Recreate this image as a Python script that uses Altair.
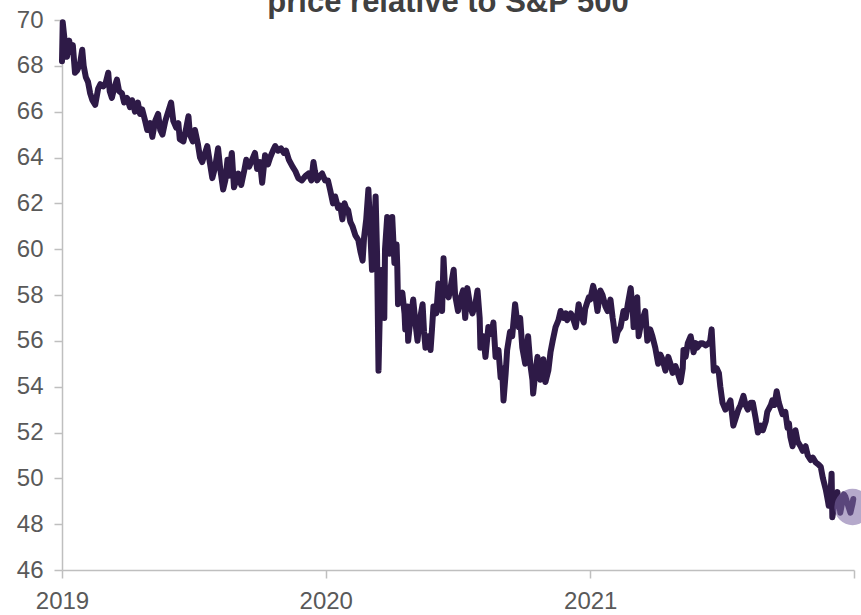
import altair as alt
import pandas as pd

TITLE = ["price relative to S&P 500"]

# days since 2019-01-01
DAY_OFFSETS = [
    0, 1, 4, 7, 10, 12, 15, 18, 21, 25, 28, 30, 33, 36, 39, 42, 46, 50, 53, 57,
    60, 64, 66, 69, 72, 76, 79, 83, 86, 90, 94, 97, 101, 105, 108, 111, 115, 118, 122, 125,
    129, 133, 136, 139, 143, 147, 151, 154, 158, 161, 163, 168, 172, 175, 177, 181, 184, 188, 191, 194,
    198, 201, 204, 208, 212, 216, 219, 223, 226, 229, 231, 235, 238, 241, 244, 248, 252, 255, 259, 263,
    267, 270, 274, 277, 281, 285, 288, 292, 295, 299, 303, 307, 310, 314, 319, 323, 327, 332, 337, 341,
    345, 348, 350, 353, 357, 360, 364, 368, 371, 375, 378, 382, 385, 388, 391, 393, 396, 399, 402, 406,
    410, 413, 416, 418, 421, 424, 427, 429, 432, 434, 436, 438, 440, 443, 446, 447, 450, 453, 456, 457,
    460, 463, 464, 465, 468, 471, 474, 475, 478, 479, 482, 486, 489, 492, 494, 499, 501, 503, 507, 510,
    512, 514, 518, 521, 524, 526, 528, 530, 535, 537, 542, 544, 548, 551, 555, 558, 561, 565, 568, 572,
    575, 578, 579, 583, 586, 590, 594, 597, 600, 604, 607, 609, 611, 614, 616, 620, 623, 627, 630, 632,
    634, 637, 641, 645, 648, 651, 652, 655, 658, 662, 666, 669, 673, 676, 679, 683, 687, 690, 694, 697,
    699, 704, 706, 711, 715, 717, 722, 724, 729, 731, 735, 738, 741, 745, 748, 752, 755, 759, 762, 763,
    766, 769, 773, 777, 780, 783, 787, 790, 791, 794, 796, 798, 801, 803, 807, 810, 814, 817, 821, 825,
    828, 831, 835, 839, 842, 845, 849, 853, 856, 859, 860, 863, 866, 870, 873, 874, 877, 879, 884, 886,
    891, 895, 897, 899, 902, 906, 909, 911, 914, 918, 922, 925, 929, 932, 936, 939, 943, 946, 949, 953,
    956, 960, 963, 967, 970, 974, 976, 981, 983, 986, 989, 992, 994, 997, 1001, 1004, 1006, 1008, 1011, 1015,
    1018, 1022, 1025, 1029, 1032, 1036, 1039, 1043, 1047, 1050, 1053, 1057, 1060, 1061, 1064, 1065, 1066, 1069, 1073, 1076,
    1077, 1080, 1082, 1084, 1087, 1090, 1091, 1094, 1095,
]

PRICE_RATIO = [
    68.2, 69.9, 69.0, 68.4, 69.1, 68.6, 68.9, 67.7, 67.8, 68.1, 68.7, 68.0, 67.5, 67.3, 66.8, 66.5, 66.3, 67.0, 67.2, 67.1,
    67.2, 67.7, 66.9, 66.6, 67.0, 67.4, 66.9, 66.8, 66.4, 66.6, 66.2, 66.5, 66.0, 66.4, 65.9, 66.1, 65.6, 65.2, 65.5, 64.9,
    65.6, 65.9, 65.2, 65.0, 65.6, 66.0, 66.4, 65.6, 65.3, 65.5, 64.8, 64.7, 65.3, 65.8, 65.0, 64.7, 65.2, 64.6, 64.0, 63.8,
    64.2, 64.5, 63.9, 63.1, 63.6, 64.4, 63.5, 62.6, 63.0, 63.9, 63.2, 64.2, 62.7, 63.0, 63.3, 62.8, 63.4, 63.9, 63.6, 63.9,
    64.2, 63.5, 63.8, 62.9, 64.1, 63.7, 64.0, 64.3, 64.5, 64.3, 64.4, 64.2, 64.3, 63.9, 63.6, 63.4, 63.1, 63.0, 63.2, 63.3,
    63.0, 63.8, 63.4, 63.0, 63.2, 63.3, 63.0, 63.0, 62.6, 62.0, 62.3, 61.8, 61.9, 61.3, 62.0, 61.8, 61.7, 61.2, 61.0, 60.6,
    60.4, 59.9, 59.5, 60.5, 61.3, 62.6, 60.5, 59.1, 60.8, 62.3, 59.8, 54.7, 57.5, 59.1, 57.0, 60.0, 61.4, 59.8, 60.5, 61.4,
    59.4, 60.2, 59.2, 57.6, 57.9, 58.1, 57.2, 56.5, 57.5, 56.0, 56.9, 57.8, 56.8, 56.0, 56.7, 57.6, 56.4, 55.7, 56.2, 55.6,
    56.5, 57.5, 57.2, 58.5, 57.8, 57.3, 59.6, 58.3, 57.9, 58.2, 59.1, 58.0, 57.3, 57.8, 58.2, 57.0, 58.3, 57.5, 57.2, 57.6,
    58.2, 57.0, 55.7, 56.2, 55.3, 56.6, 56.3, 56.8, 55.3, 55.6, 54.4, 54.8, 53.4, 54.6, 55.6, 56.4, 56.2, 57.6, 56.8, 56.6,
    57.0, 55.7, 55.0, 56.2, 55.0, 54.3, 53.7, 54.6, 55.3, 54.3, 55.2, 54.2, 54.7, 55.5, 56.0, 56.6, 56.9, 57.3, 57.0, 57.2,
    56.9, 57.2, 57.1, 56.6, 57.6, 57.2, 56.8, 57.4, 57.9, 57.8, 58.4, 58.0, 57.3, 58.2, 58.0, 57.5, 57.3, 57.8, 57.0, 56.8,
    56.0, 56.4, 56.6, 57.3, 57.0, 57.6, 58.3, 57.2, 56.6, 57.5, 57.9, 56.2, 56.7, 56.9, 57.3, 56.0, 56.5, 56.2, 55.7, 55.0,
    55.4, 55.2, 54.7, 55.3, 55.0, 54.6, 54.9, 54.5, 54.2, 54.8, 55.6, 55.3, 55.9, 56.2, 55.7, 55.5, 55.9, 55.7, 55.9, 55.9,
    55.8, 55.9, 56.0, 56.5, 54.7, 54.8, 54.6, 54.0, 53.3, 53.0, 53.2, 53.4, 52.3, 52.6, 53.0, 53.2, 53.6, 53.2, 53.0, 53.3,
    53.3, 52.6, 52.0, 52.3, 52.1, 52.5, 52.9, 53.2, 53.4, 53.2, 53.8, 53.3, 53.1, 52.8, 52.9, 52.2, 52.4, 51.8, 51.4, 52.1,
    51.6, 51.4, 51.2, 51.4, 51.0, 50.8, 50.9, 50.7, 50.6, 50.5, 50.0, 49.5, 49.0, 48.8, 49.6, 50.2, 48.3, 48.9, 49.4, 48.8,
    48.5, 49.0, 49.3, 49.2, 48.9, 48.6, 48.5, 48.9, 49.1,
]

HIGHLIGHT_DAY = [1094]
HIGHLIGHT_VALUE = [48.75]

Y_TICKS = [46, 48, 50, 52, 54, 56, 58, 60, 62, 64, 66, 68, 70]
X_YEARS = [2019, 2020, 2021, 2022]

base_date = pd.Timestamp("2019-01-01")
df = pd.DataFrame({
    "date": (base_date + pd.to_timedelta(DAY_OFFSETS, unit="D")).strftime("%Y-%m-%dT00:00:00"),
    "value": PRICE_RATIO,
})
hl = pd.DataFrame({
    "date": (base_date + pd.to_timedelta(HIGHLIGHT_DAY, unit="D")).strftime("%Y-%m-%dT00:00:00"),
    "value": HIGHLIGHT_VALUE,
})
title_df = pd.DataFrame({"t": TITLE})

FONT = "Liberation Sans"
AXIS_COLOR = "#BFBFBF"
LABEL_COLOR = "#595959"

x_enc = alt.X(
    "date:T",
    scale=alt.Scale(domain=[alt.DateTime(year=2019, month=1, date=1),
                            alt.DateTime(year=2022, month=1, date=1)]),
    axis=alt.Axis(
        values=[alt.DateTime(year=y, month=1, date=1) for y in X_YEARS],
        format="%Y",
        labelExpr="year(datum.value) == 2022 ? '' : datum.label",
        title=None, grid=False,
        labelFlush=False, labelOverlap=False,
        labelFontSize=24, labelFont=FONT, labelColor=LABEL_COLOR,
        labelPadding=11,
        domainColor=AXIS_COLOR, domainWidth=1.5,
        tickColor=AXIS_COLOR, tickWidth=1.5, tickSize=8,
    ),
)
y_enc = alt.Y(
    "value:Q",
    scale=alt.Scale(domain=[46, 70], nice=False, zero=False),
    axis=alt.Axis(
        values=Y_TICKS, title=None, grid=False,
        labelOverlap=False, labelFlush=False,
        labelFontSize=24, labelFont=FONT, labelColor=LABEL_COLOR,
        labelPadding=11,
        domainColor=AXIS_COLOR, domainWidth=1.5,
        tickColor=AXIS_COLOR, tickWidth=1.5, tickSize=8,
    ),
)

line = alt.Chart(df).mark_line(
    color="#2E1A47", strokeWidth=6, strokeJoin="round", strokeCap="round"
).encode(x=x_enc, y=y_enc)

dot = alt.Chart(hl).mark_circle(
    color="#7C68A3", opacity=0.57, size=1320
).encode(x="date:T", y="value:Q")

title = alt.Chart(title_df).mark_text(
    font=FONT, fontSize=31, fontWeight="bold", color="#404040",
    align="center", baseline="alphabetic"
).encode(text="t:N", x=alt.value(386), y=alt.value(-8))

chart = alt.layer(line, dot, title).properties(
    width=792, height=550,
    autosize=alt.AutoSizeParams(type="none"),
    padding={"left": 62, "top": 20, "right": 7, "bottom": 45},
).configure_view(stroke=None)

chart.save("out.html", embed_options={"renderer": "svg", "actions": False})
